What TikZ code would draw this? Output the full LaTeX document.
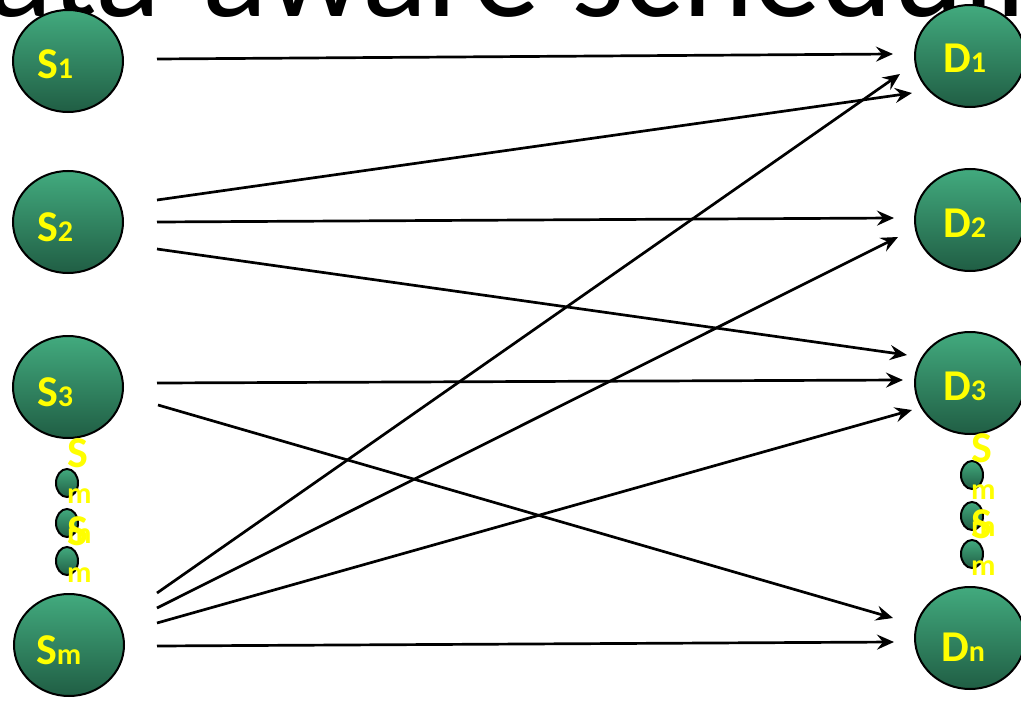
\documentclass[tikz,border=0pt]{standalone}
\usepackage{fontspec}
\setmainfont{Carlito}
\usetikzlibrary{shapes.geometric,arrows.meta,calc}
\definecolor{gtop}{RGB}{66,170,126}
\definecolor{gbot}{RGB}{32,94,68}
\definecolor{lbl}{RGB}{255,255,0}
\tikzset{
  bigc/.style={ellipse,draw=black,line width=2pt,top color=gtop,bottom color=gbot,minimum width=110pt,minimum height=102pt,inner sep=0pt},
  smallc/.style={ellipse,draw=black,line width=2pt,top color=gtop,bottom color=gbot,minimum width=22pt,minimum height=28pt,inner sep=0pt},
  lab/.style={anchor=base west,inner sep=0pt,text=lbl,font=\bfseries},
  conn/.style={line width=2.7pt,-{Stealth[length=17pt,width=15pt,inset=6pt]}},
}
\newcommand{\MyBig}[1]{{\fontsize{44}{44}\selectfont #1}}
\newcommand{\MySml}[1]{{\fontsize{30}{30}\selectfont #1}}
\begin{document}
\begin{tikzpicture}[x=1pt,y=-1pt]
\useasboundingbox (0,0) rectangle (1021,701);
\clip (0,0) rectangle (1021,701);
\node[anchor=base west,inner sep=0pt,font=\fontsize{136}{136}\selectfont] (title) at (-84,17) {data-aware scheduling};
% sources
\node[bigc] (s1) at (68,61) {};
\node[bigc] (s2) at (68,222) {};
\node[bigc] (s3) at (68,387) {};
\node[bigc] (sm) at (69,645) {};
% destinations
\node[bigc] (d1) at (970,56) {};
\node[bigc] (d2) at (970,220) {};
\node[bigc] (d3) at (970,383) {};
\node[bigc] (dn) at (970,638) {};
% small circles
\node[smallc] (ls1) at (67,483) {};
\node[smallc] (ls2) at (67,523) {};
\node[smallc] (ls3) at (67,561) {};
\node[smallc] (rs1) at (972,475) {};
\node[smallc] (rs2) at (972,516) {};
\node[smallc] (rs3) at (972,554) {};
% labels
\node[lab] (s1l) at (37,79) {\MyBig{S}\MySml{1}};
\node[lab] (s2l) at (37,241) {\MyBig{S}\MySml{2}};
\node[lab] (s3l) at (37,406) {\MyBig{S}\MySml{3}};
\node[lab] (sml) at (36,664) {\MyBig{S}\MySml{m}};
\node[lab] (d1l) at (943,73) {\MyBig{D}\MySml{1}};
\node[lab] (d2l) at (943,237) {\MyBig{D}\MySml{2}};
\node[lab] (d3l) at (943,400) {\MyBig{D}\MySml{3}};
\node[lab] (dnl) at (941,661) {\MyBig{D}\MySml{n}};
% stacked small labels left
\node[lab] (la) at (67,467) {\MyBig{S}};
\node[lab] (lb) at (67,503) {\MySml{m}};
\node[lab] (lc) at (67,543) {\MySml{m}};
\node[lab] (ld) at (67,545) {\MyBig{S}};
\node[lab] (le) at (67,582) {\MySml{m}};
% stacked small labels right
\node[lab] (ra) at (971,462) {\MyBig{S}};
\node[lab] (rb) at (971,499) {\MySml{m}};
\node[lab] (rc) at (971,536) {\MySml{m}};
\node[lab] (rd) at (971,538) {\MyBig{S}};
\node[lab] (re) at (971,575) {\MySml{m}};
% connectors
\draw[conn] ($(s1)+(89,-2)$) -- ($(d1)+(-77,-2)$);
\draw[conn] ($(s2)+(89,-22)$) -- ($(d1)+(-58,37)$);
\draw[conn] ($(s2)+(89,0)$) -- ($(d2)+(-76,-2)$);
\draw[conn] ($(s2)+(89,27)$) -- ($(d3)+(-63,-28)$);
\draw[conn] ($(s3)+(89,-4)$) -- ($(d3)+(-67,-3)$);
\draw[conn] ($(s3)+(90,18)$) -- ($(dn)+(-77,-20)$);
\draw[conn] ($(sm)+(88,-52)$) -- ($(d1)+(-70,18)$);
\draw[conn] ($(sm)+(88,-37)$) -- ($(d2)+(-72,17)$);
\draw[conn] ($(sm)+(88,-22)$) -- ($(d3)+(-58,27)$);
\draw[conn] ($(sm)+(88,1)$) -- ($(dn)+(-76,4)$);
\end{tikzpicture}
\end{document}
